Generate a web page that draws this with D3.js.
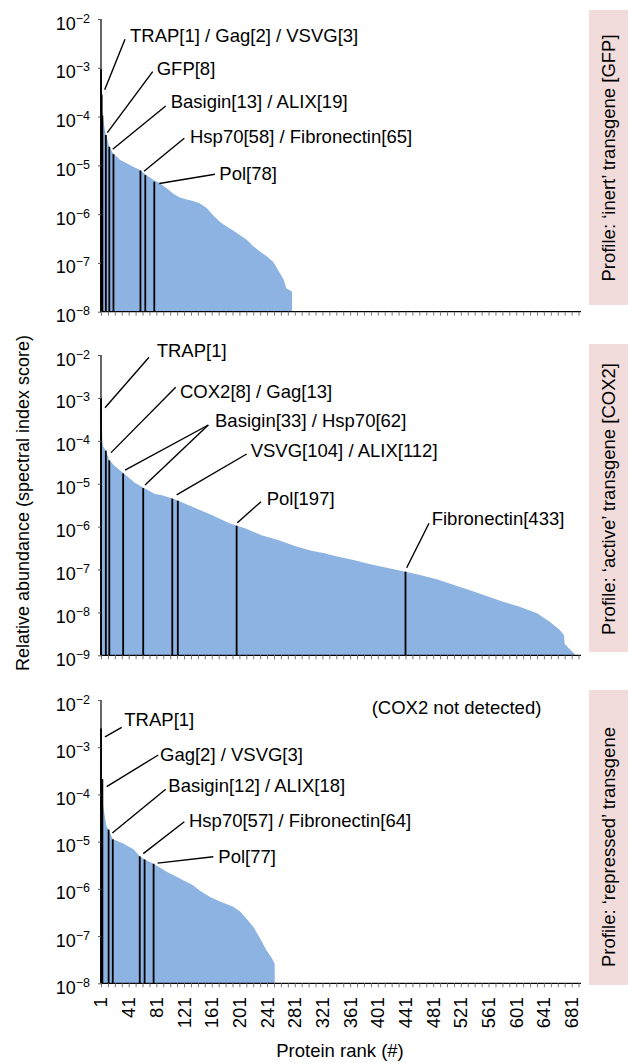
<!DOCTYPE html>
<html>
<head>
<meta charset="utf-8">
<script src="https://cdn.jsdelivr.net/npm/d3@7"></script>
<style>
  body { margin: 0; background: #fff; }
  svg { display: block; font-family: "Liberation Sans", Arial, Helvetica, sans-serif; }
</style>
</head>
<body>
<script>
// protein rank vs relative abundance: [rank, value]
const gfpProfile = [
  [1, 9.3e-4], [2, 2.8e-4], [3, 1.05e-4], [4, 9.5e-5], [6, 6.0e-5], [8, 4.2e-5], [9, 4.0e-5],
  [13, 2.4e-5], [14, 2.3e-5], [19, 1.7e-5], [24, 1.5e-5], [28, 1.3e-5], [38, 1.1e-5],
  [48, 9.3e-6], [57, 8.1e-6], [67, 6.3e-6], [77, 5.0e-6], [86, 4.3e-6], [96, 3.4e-6],
  [106, 2.6e-6], [115, 2.2e-6], [125, 2.0e-6], [134, 1.85e-6], [144, 1.66e-6], [154, 1.32e-6],
  [163, 9.5e-7], [173, 6.9e-7], [183, 5.5e-7], [192, 4.6e-7], [202, 3.7e-7], [212, 2.95e-7],
  [221, 2.2e-7], [231, 1.7e-7], [240, 1.38e-7], [250, 1.05e-7], [260, 6.0e-8], [265, 4.5e-8],
  [269, 3.0e-8], [274, 2.75e-8], [277, 2.55e-8]
];
const cox2Profile = [
  [1, 1.02e-3], [2, 3.0e-4], [3, 1.05e-4], [4, 7.6e-5], [8, 5.9e-5], [13, 3.5e-5], [21, 2.6e-5],
  [34, 1.74e-5], [50, 1.05e-5], [63, 7.9e-6], [79, 5.75e-6], [89, 5.4e-6], [104, 4.5e-6],
  [113, 4.0e-6], [137, 2.7e-6], [161, 1.86e-6], [185, 1.23e-6], [197, 1.05e-6], [209, 9.1e-7],
  [233, 6.3e-7], [257, 4.9e-7], [281, 3.55e-7], [305, 2.75e-7], [324, 2.4e-7], [342, 2.0e-7],
  [366, 1.66e-7], [390, 1.32e-7], [414, 1.1e-7], [441, 8.9e-8], [462, 7.4e-8], [486, 5.9e-8],
  [510, 4.4e-8], [534, 3.3e-8], [558, 2.4e-8], [582, 1.78e-8], [606, 1.35e-8], [631, 9.5e-9],
  [650, 6.0e-9], [664, 3.9e-9], [670, 2.95e-9], [671, 1.86e-9], [678, 1.4e-9], [685, 1.1e-9]
];
const repressedProfile = [
  [1, 2.5e-3], [2, 2.1e-4], [3, 2.1e-4], [4, 6.0e-5], [7, 3.1e-5], [9, 2.1e-5], [12, 1.8e-5],
  [18, 1.12e-5], [24, 1.05e-5], [33, 9.1e-6], [48, 6.9e-6], [57, 4.9e-6], [64, 4.2e-6],
  [77, 3.4e-6], [96, 2.3e-6], [115, 1.66e-6], [134, 1.2e-6], [144, 9.1e-7], [158, 6.8e-7],
  [173, 5.4e-7], [192, 4.2e-7], [202, 3.3e-7], [211, 2.35e-7], [221, 1.58e-7], [231, 8.9e-8],
  [240, 5.0e-8], [248, 3.4e-8], [252, 2.6e-8]
];

// highlighted proteins: [rank, value]
const gfpMarkers = [[1, 9.3e-4], [2, 2.8e-4], [3, 1.05e-4], [8, 4.2e-5], [13, 2.4e-5], [19, 1.7e-5], [58, 7.8e-6], [65, 6.3e-6], [78, 4.6e-6]];
const cox2Markers = [[1, 1.0e-3], [8, 5.9e-5], [13, 3.5e-5], [33, 1.74e-5], [62, 7.9e-6], [104, 4.5e-6], [112, 4.0e-6], [197, 1.05e-6], [441, 8.9e-8]];
const repressedMarkers = [[1, 2.5e-3], [2, 2.1e-4], [3, 2.1e-4], [12, 1.8e-5], [18, 1.12e-5], [57, 4.9e-6], [64, 4.2e-6], [77, 3.4e-6]];

const gfpLabels = ["TRAP[1] / Gag[2] / VSVG[3]", "GFP[8]", "Basigin[13] / ALIX[19]", "Hsp70[58] / Fibronectin[65]", "Pol[78]"];
const cox2Labels = ["TRAP[1]", "COX2[8] / Gag[13]", "Basigin[33] / Hsp70[62]", "VSVG[104] / ALIX[112]", "Pol[197]", "Fibronectin[433]"];
const repressedLabels = ["TRAP[1]", "Gag[2] / VSVG[3]", "Basigin[12] / ALIX[18]", "Hsp70[57] / Fibronectin[64]", "Pol[77]"];

const profileTitles = ["Profile: \u2018inert\u2019 transgene [GFP]", "Profile: \u2018active\u2019 transgene [COX2]", "Profile: \u2018repressed\u2019 transgene"];
const xTickLabels = d3.range(1, 682, 40);
const xMinorTicks = d3.range(1, 692, 10);

const W = 628, H = 1063;
const blue = "#8db3e2", pink = "#f2dcdb";
const fs = 18.5;

const svg = d3.select("body").append("svg").attr("width", W).attr("height", H);

const x = d3.scaleLinear().domain([1, 691]).range([101, 578.5]);

// label layout: text pos, leader start, leader target [markerRank, dx, dy]
const panels = [
  {
    data: gfpProfile, markers: gfpMarkers, labels: gfpLabels, title: profileTitles[0],
    top: 19, bottom: 311.7, minExp: -8, box: [10, 305], titleY: 158,
    notes: [
      { t: [130, 42], from: [125, 39.3], to: [[2, 3, -5]] },
      { t: [156.7, 75], from: [152.7, 71.7], to: [[8, 1.5, -2.4]] },
      { t: [170.7, 108.3], from: [165.7, 106], to: [[13, 3.4, 2.5]] },
      { t: [190, 143], from: [184.3, 138.3], to: [[58, 3.6, 0.7]] },
      { t: [219.3, 180], from: [215, 174.3], to: [[78, 5, 1.7]] }
    ]
  },
  {
    data: cox2Profile, markers: cox2Markers, labels: cox2Labels, title: profileTitles[1],
    top: 355, bottom: 655.3, minExp: -9, box: [344, 652], titleY: 499,
    notes: [
      { t: [156.7, 357.3], from: [149, 357.3], to: [[1, 4, 9.8]] },
      { t: [180, 398.3], from: [175.7, 387.3], to: [[8, 5.2, 2]] },
      { t: [215, 426.7], from: [208.3, 425], to: [[33, 1.9, -3.3], [62, 1.8, -3]] },
      { t: [250.7, 457.3], from: [246.7, 454], to: [[104, 4.4, -3.7]] },
      { t: [266.7, 505], from: [261, 501.7], to: [[197, 0.7, -3]] },
      { t: [431.7, 525], from: [429, 523.3], to: [[441, 1.2, -3.9]] }
    ]
  },
  {
    data: repressedProfile, markers: repressedMarkers, labels: repressedLabels, title: profileTitles[2],
    top: 700, bottom: 983.3, minExp: -8, box: [690, 985], titleY: 847,
    notes: [
      { t: [124.3, 726], from: [121.7, 727.3], to: [[1, 4, 8.4]] },
      { t: [160, 761], from: [158.3, 755], to: [[2, 5, 7.4]] },
      { t: [168.3, 791.7], from: [165.7, 789.3], to: [[12, 3.7, 3.4]] },
      { t: [189, 826.7], from: [184.3, 821.7], to: [[57, 3.5, -2.7]] },
      { t: [218.3, 863.3], from: [213.3, 856.7], to: [[77, 4, -0.7]] }
    ]
  }
];

panels.forEach(function (p, pi) {
  const y = d3.scaleLog().domain([Math.pow(10, p.minExp), 1e-2]).range([p.bottom, p.top]);
  const g = svg.append("g");

  // pink side box + title
  g.append("rect")
    .attr("x", 589).attr("y", p.box[0])
    .attr("width", W - 589).attr("height", p.box[1] - p.box[0])
    .attr("fill", pink);
  g.append("text")
    .attr("transform", "translate(615," + p.titleY + ") rotate(-90)")
    .attr("text-anchor", "middle")
    .attr("font-size", fs)
    .text(p.title);

  // abundance area
  const area = d3.area()
    .x(d => x(d[0]))
    .y0(p.bottom)
    .y1(d => y(d[1]));
  g.append("path")
    .datum(p.data)
    .attr("d", area)
    .attr("fill", blue);

  // marker lines
  g.selectAll(".mk").data(p.markers).enter().append("line")
    .attr("x1", d => x(d[0])).attr("x2", d => x(d[0]))
    .attr("y1", p.bottom).attr("y2", d => y(d[1]))
    .attr("stroke", "#000").attr("stroke-width", 1.8);

  // y axis
  const exps = d3.range(p.minExp, -1);
  const yAxis = d3.axisLeft(y)
    .tickValues(exps.map(e => Math.pow(10, e)))
    .tickSize(3)
    .tickFormat("");
  const ya = g.append("g").attr("transform", "translate(101,0)").call(yAxis);
  ya.select(".domain").attr("stroke", "#000").attr("stroke-width", 1.2).attr("d", "M0," + p.top + "V" + p.bottom);
  ya.selectAll(".tick line").attr("stroke", "#555");

  exps.forEach(function (e) {
    const t = g.append("text")
      .attr("x", 90).attr("y", y(Math.pow(10, e)) + 10.5)
      .attr("text-anchor", "end")
      .attr("font-size", 18);
    t.append("tspan").text("10");
    t.append("tspan").attr("font-size", 12.5).attr("dy", -7).text("\u2212" + (-e));
  });

  // x axis
  const xAxis = d3.axisBottom(x).tickValues(xMinorTicks).tickSize(4).tickFormat("");
  const xa = g.append("g").attr("transform", "translate(0," + p.bottom + ")").call(xAxis);
  xa.select(".domain").attr("stroke", "#000").attr("stroke-width", 1.2).attr("d", "M101,0H581");
  xa.selectAll(".tick line").attr("stroke", "#777");

  if (pi === 2) {
    g.selectAll(".xl").data(xTickLabels).enter().append("text")
      .attr("transform", d => "translate(" + x(d) + "," + p.bottom + ") rotate(-90)")
      .attr("x", -14).attr("dy", "0.35em")
      .attr("text-anchor", "end")
      .attr("font-size", fs)
      .text(d => d);
  }

  // annotations
  const mkValue = new Map(p.markers.map(d => [d[0], d[1]]));
  p.notes.forEach(function (n, ni) {
    g.append("text")
      .attr("x", n.t[0]).attr("y", n.t[1])
      .attr("font-size", fs)
      .text(p.labels[ni]);
    n.to.forEach(function (tg) {
      g.append("line")
        .attr("x1", n.from[0]).attr("y1", n.from[1])
        .attr("x2", x(tg[0]) + tg[1]).attr("y2", y(mkValue.get(tg[0])) + tg[2])
        .attr("stroke", "#000").attr("stroke-width", 1.4);
    });
  });

  if (pi === 2) {
    g.append("text")
      .attr("x", 371.7).attr("y", 714)
      .attr("font-size", fs)
      .text("(COX2 not detected)");
  }
});

// axis titles
svg.append("text")
  .attr("transform", "translate(29,503) rotate(-90)")
  .attr("text-anchor", "middle")
  .attr("font-size", 18)
  .text("Relative abundance (spectral index score)");

svg.append("text")
  .attr("x", 340).attr("y", 1057)
  .attr("text-anchor", "middle")
  .attr("font-size", fs)
  .text("Protein rank (#)");
</script>
</body>
</html>
